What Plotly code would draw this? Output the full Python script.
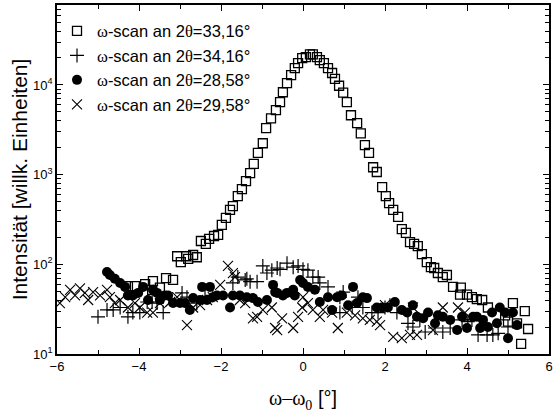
import plotly.graph_objects as go

# omega-scan at 2theta=33.16 (open squares)
sq_x = [-4.27, -4.10, -3.85, -3.66, -3.68, -3.49, -3.34, -3.17,
        -3.07, -2.98, -2.85, -2.80, -2.68, -2.59, -2.49, -2.37, -2.29, -2.17, -2.07,
        -1.98, -1.88, -1.78, -1.71, -1.59, -1.49, -1.39, -1.29, -1.20, -1.10, -0.98,
        -0.90, -0.78, -0.66, -0.56, -0.49, -0.39, -0.29, -0.20, -0.12, -0.02, 0.07,
        0.17, 0.24, 0.34, 0.41, 0.51, 0.61, 0.71, 0.78, 0.88, 0.98, 1.07, 1.17,
        1.32, 1.41, 1.51, 1.61, 1.71, 1.80, 1.93, 2.02, 2.10, 2.20, 2.32, 2.41,
        2.51, 2.61, 2.71, 2.80, 2.90, 3.02, 3.12, 3.20, 3.29, 3.41, 3.51, 3.66,
        3.85, 3.83, 4.00, 4.12, 4.24, 4.37, 4.51, 4.93, 5.12, 5.00, 5.22, 5.41,
        5.49, 5.32]
sq_y = [57, 57, 60, 65, 52, 55, 70, 67,
        123, 106, 123, 115, 127, 120, 182, 169, 192, 207, 213,
        275, 329, 404, 446, 577, 690, 848, 1040, 1320, 1750, 2240,
        3300, 4250, 5240, 6440, 8300, 10500, 12900, 15400, 17500, 19900, 20400,
        22000, 22000, 20400, 18900, 17500, 15400, 13600, 11700, 9800, 8200, 6440, 4600,
        3760, 2880, 2140, 1750, 1210, 1070, 726, 577, 482, 404, 338, 247,
        224, 177, 169, 160, 130, 106, 93, 91, 80, 72, 76, 56,
        55, 46, 46, 43, 41, 40, 33, 27, 37, 23, 22, 30,
        19, 13]

# omega-scan at 2theta=34.16 (plus)
pl_x = [-5.0, -4.78, -4.63, -4.46, -4.27, -4.15, -3.98, -3.80, -3.68, -3.56, -3.41,
        -2.95, -2.83, -2.59, -2.39, -2.20, -1.71, -1.59, -1.41, -1.37, -1.29, -1.12,
        -0.98, -0.88, -0.76, -0.63, -0.56, -0.39, -0.24, -0.12, 0.0, 0.12, 0.24,
        0.37, 0.41, 0.61, 0.90, 0.98, 0.90, 1.20, 1.34, 1.46, 1.68, 1.83, 2.0,
        2.12, 2.29, 2.56, 2.68, 2.85, 2.98, 3.22, 3.41, 3.59, 3.88, 4.02, 4.12,
        4.27, 4.49, 4.63, 4.76, 5.0]
pl_y = [26, 31, 31, 33, 26, 29, 29, 38, 38, 37, 29,
        48, 43, 37, 43, 45, 62, 72, 67, 69, 64, 64,
        96, 80, 86, 91, 88, 103, 93, 96, 88, 86, 72,
        72, 62, 56, 43, 49, 29, 33, 43, 33, 29, 29, 33,
        35, 29, 22, 20, 24, 17.6, 19.5, 17.6, 19.5, 24, 23, 24,
        16.3, 16.3, 16.3, 17, 20]

# omega-scan at 2theta=28.58 (filled circles)
ci_x = [-4.78, -4.71, -4.59, -4.46, -4.34, -4.27, -4.15, -4.02, -3.90, -3.78, -3.66,
        -3.56, -3.49, -3.37, -3.29, -3.17, -3.0, -2.88, -2.76, -2.68, -2.51, -2.46,
        -2.34, -2.27, -2.20, -2.10, -1.95, -1.78, -1.71, -1.54, -1.37, -1.22, -1.10,
        -0.88, -0.73, -0.68, -0.63, -0.49, -0.39, -0.24, -0.20, -0.07, 0.0, 0.12,
        0.29, 0.41, 0.61, 0.71, 0.83, 0.95, 1.10, 1.22, 1.32, 1.46, 1.56, 1.80,
        1.93, 2.07, 2.24, 2.41, 2.54, 2.68, 2.78, 2.93, 3.05, 3.22, 3.29, 3.41,
        3.59, 3.76, 3.88, 4.0, 4.15, 4.24, 4.32, 4.39, 4.51, 4.61, 4.73, 4.80,
        4.93, 5.0, 5.12, 5.22]
ci_y = [82, 76, 69, 62, 56, 45, 45, 48, 56, 40, 52,
        48, 40, 45, 45, 37, 37, 37, 31, 42, 40, 56,
        40, 56, 43, 45, 45, 33, 45, 45, 43, 42, 38,
        40, 59, 49, 48, 45, 48, 52, 45, 67, 62, 56,
        52, 38, 43, 31, 43, 45, 35, 56, 37, 43, 42, 33,
        33, 33, 38, 31, 29, 35, 26, 25, 29, 22, 27, 26,
        24, 18.5, 26, 19.5, 26, 26, 19.5, 24, 20, 29, 22, 33,
        29, 15, 29, 21]

# omega-scan at 2theta=29.58 (crosses)
cr_x = [-5.93, -5.80, -5.68, -5.56, -5.44, -5.32, -5.24, -5.12, -4.95, -4.78, -4.71,
        -4.59, -4.46, -4.27, -4.10, -3.98, -3.80, -3.66, -3.49, -3.24, -3.07, -2.83,
        -2.68, -2.51, -2.34, -2.20, -2.02, -1.83, -1.71, -1.66, -1.54, -1.41, -1.22,
        -1.12, -0.98, -0.76, -0.68, -0.63, -0.51, -0.24, -0.12, 0.0, -0.02, 0.12,
        0.24, 0.41, 0.49, 0.71, 0.85, 1.07, 1.27, 1.46, 1.63, 1.80, 1.88, 2.0,
        2.20, 2.41, 2.61, 2.68, 2.78, 3.17, 3.41, 3.78, 3.95]
cr_y = [37, 43, 52, 45, 54, 48, 40, 49, 45, 52, 43,
        37, 40, 33, 37, 33, 29, 29, 37, 38, 43, 21,
        33, 35, 40, 43, 59, 96, 80, 72, 40, 37, 25,
        26, 31, 33, 19.5, 18.5, 25, 19.5, 26, 43, 33, 37,
        31, 26, 31, 29, 19.5, 29, 27, 25, 24, 23, 21, 35,
        15.5, 15, 16.3, 33, 16.3, 18.5, 33, 33, 29]

labels = ["ω-scan an 2θ=33,16°", "ω-scan an 2θ=34,16°",
          "ω-scan an 2θ=28,58°", "ω-scan an 2θ=29,58°"]

ytick_vals = [10, 100, 1000, 10000]
ytick_text = ["10<sup>1</sup>", "10<sup>2</sup>", "10<sup>3</sup>", "10<sup>4</sup>"]
yminor_vals = [m * 10 ** e for e in range(1, 5) for m in range(2, 10)]

def greek(s):
    s = s.replace("ω", '<span style="font-family:Liberation Serif">ω</span>')
    s = s.replace("θ", '<span style="font-family:Liberation Serif">θ</span>')
    return s

fig = go.Figure()
fig.add_trace(go.Scatter(x=sq_x, y=sq_y, mode="markers", name=greek(labels[0]),
                         marker=dict(symbol="square-open", size=9, color="black",
                                     line=dict(width=1.3, color="black"))))
fig.add_trace(go.Scatter(x=pl_x, y=pl_y, mode="markers", name=greek(labels[1]),
                         marker=dict(symbol="cross-thin-open", size=10, color="black",
                                     line=dict(width=1.2, color="black"))))
fig.add_trace(go.Scatter(x=ci_x, y=ci_y, mode="markers", name=greek(labels[2]),
                         marker=dict(symbol="circle", size=10, color="black",
                                     line=dict(width=0))))
fig.add_trace(go.Scatter(x=cr_x, y=cr_y, mode="markers", name=greek(labels[3]),
                         marker=dict(symbol="x-thin-open", size=10, color="black",
                                     line=dict(width=1.1, color="black"))))

font_main = "Liberation Sans, Arial, sans-serif"
fig.update_layout(
    width=553, height=414,
    margin=dict(l=57, r=4, t=5, b=60),
    paper_bgcolor="white", plot_bgcolor="white",
    font=dict(family=font_main, color="black", size=12),
    showlegend=True,
    legend=dict(x=0.0, y=0.975, xanchor="left", yanchor="top",
                bgcolor="rgba(0,0,0,0)", font=dict(size=16.5, family=font_main)),
    xaxis=dict(range=[-6, 6], tickvals=[-6, -4, -2, 0, 2, 4, 6], automargin=False,
               ticks="inside", ticklen=6, tickwidth=1.3, tickcolor="black",
               minor=dict(tickvals=[-5, -3, -1, 1, 3, 5], ticks="inside", ticklen=4,
                          tickwidth=1.3, tickcolor="black"),
               showline=True, linecolor="black", linewidth=1.5, mirror="allticks",
               showgrid=False, zeroline=False,
               tickfont=dict(size=13),
               title=dict(text='<span style="font-family:Liberation Serif">ω–ω<sub>0</sub></span> [°]',
                          font=dict(size=20), standoff=18)),
    yaxis=dict(type="log", range=[1, 4.892], tickvals=ytick_vals, ticktext=ytick_text,
               automargin=False,
               ticks="inside", ticklen=6, tickwidth=1.3, tickcolor="black",
               minor=dict(tickvals=yminor_vals, ticks="inside", ticklen=4,
                          tickwidth=1.3, tickcolor="black"),
               showline=True, linecolor="black", linewidth=1.5, mirror="allticks",
               showgrid=False, zeroline=False,
               tickfont=dict(size=13),
               title=dict(text="Intensität [willk. Einheiten]", font=dict(size=21),
                          standoff=0)),
)

fig.write_html("out.html", config={"displayModeBar": False},
               post_script="document.body.style.margin='0';document.body.style.overflow='hidden';")
